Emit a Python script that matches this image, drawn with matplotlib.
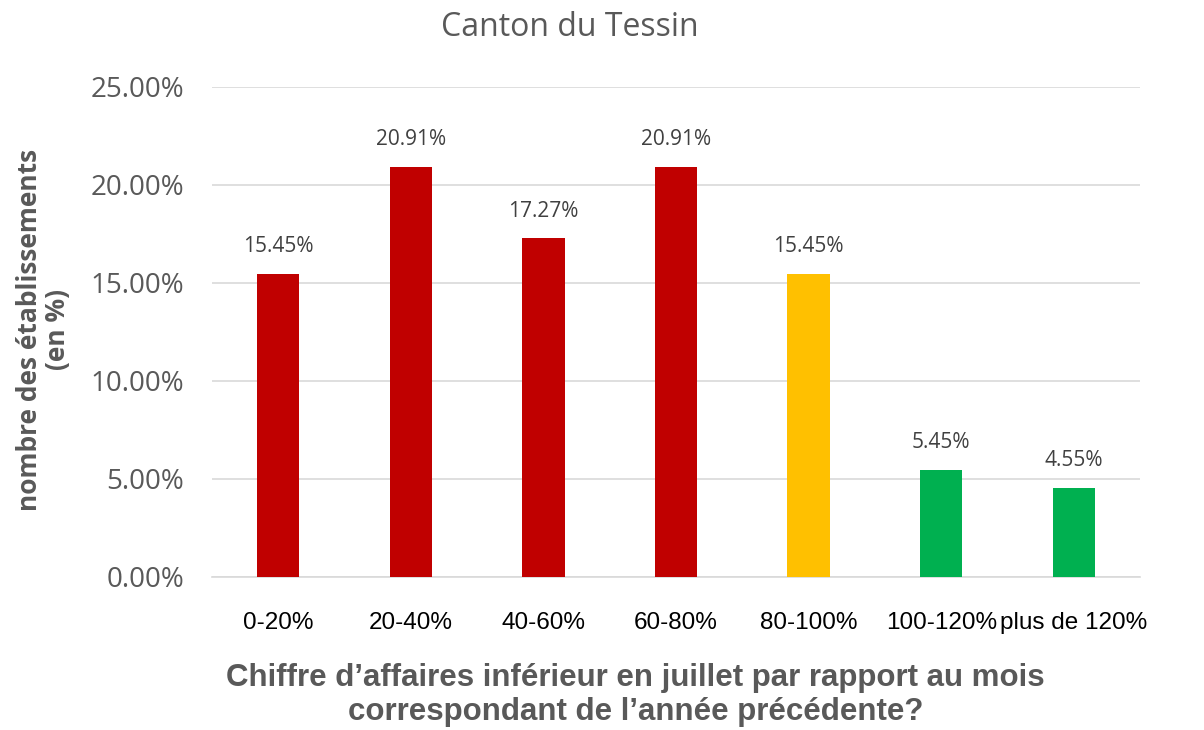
import matplotlib
matplotlib.use("Agg")
import matplotlib.pyplot as plt
import numpy as np
from matplotlib.ticker import FuncFormatter

categories = ["0-20%", "20-40%", "40-60%", "60-80%", "80-100%", "100-120%", "plus de 120%"]
values = [15.45, 20.91, 17.27, 20.91, 15.45, 5.45, 4.55]
bar_colors = ["#C00000", "#C00000", "#C00000", "#C00000", "#FFC000", "#00B050", "#00B050"]

gray = "#595959"

fig = plt.figure(figsize=(12.04, 7.30), dpi=100)
ax = fig.add_axes([0.176, 0.2096, 0.771, 0.6714])

x = np.arange(len(categories))
ax.bar(x, values, width=0.32, color=bar_colors, zorder=3)

# data labels above bars
for xi, v in zip(x, values):
    ax.annotate(f"{v:.2f}%", (xi, v), xytext=(0, 12), textcoords="offset points",
                ha="center", va="bottom", fontsize=15, color="#404040",
                family="Open Sans")

ax.set_xlim(-0.5, len(categories) - 0.5)
ax.set_ylim(0, 25)
ax.set_yticks(np.arange(0, 26, 5))
ax.yaxis.set_major_formatter(FuncFormatter(lambda v, pos: f"{v:.2f}%"))
ax.grid(True, axis="y", color="#D9D9D9", linewidth=1.2, zorder=0)

for s in ["top", "right", "left"]:
    ax.spines[s].set_visible(False)
ax.spines["bottom"].set_color("#D9D9D9")
ax.spines["bottom"].set_linewidth(1.2)

ax.tick_params(axis="y", length=0, pad=20, labelsize=20, labelcolor=gray)
ax.tick_params(axis="x", length=0, pad=25, labelsize=17.5, labelcolor="black")
for t in ax.get_yticklabels():
    t.set_family("Open Sans")
ax.set_xticks(x)
ax.set_xticklabels(categories, family="Liberation Sans")

fig.text(0.036, 0.548, "nombre des établissements\n(en %)", rotation=90,
         ha="center", va="center", fontsize=19, fontweight="bold", color=gray,
         family="Open Sans", linespacing=1.05)

fig.text(0.528, 0.048, "Chiffre d’affaires inférieur en juillet par rapport au mois\ncorrespondant de l’année précédente?",
         ha="center", va="center", fontsize=22.5, fontweight="bold", color=gray,
         family="Liberation Sans", linespacing=1.15)

fig.text(0.473, 0.962, "Canton du Tessin", ha="center", va="center",
         fontsize=23, color=gray, family="Open Sans")

fig.savefig("out.png", dpi=100)
